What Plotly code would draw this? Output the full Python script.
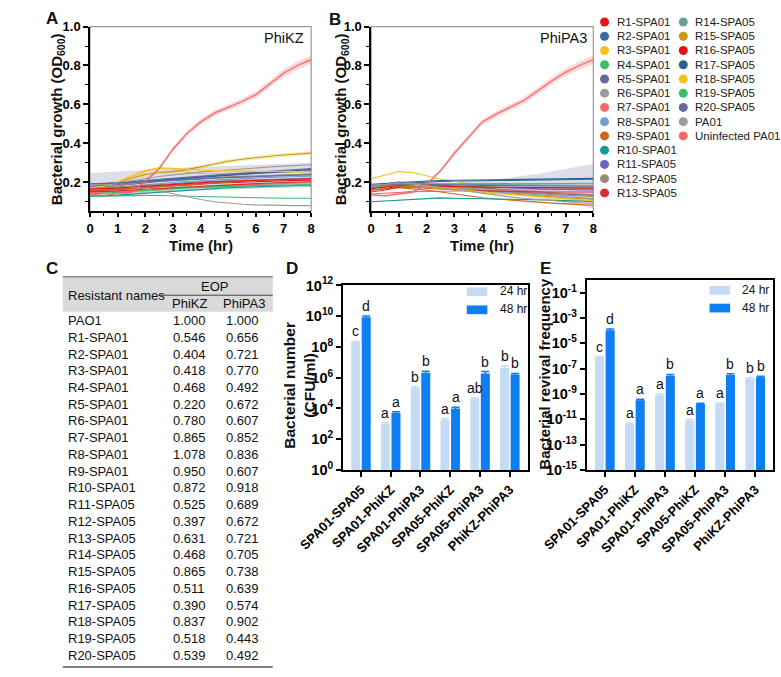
import math
import plotly.graph_objects as go

W, H = 781, 677
FONT = "Liberation Sans, Arial, Helvetica, sans-serif"

# ---------------- data: growth curves (panels A, B) ----------------
T = [0, 0.5, 1, 1.5, 2, 2.5, 3, 3.5, 4, 4.5, 5, 5.5, 6, 6.5, 7, 7.5, 8]

STRAINS = ["R1-SPA01", "R2-SPA01", "R3-SPA01", "R4-SPA01", "R5-SPA01", "R6-SPA01",
           "R7-SPA01", "R8-SPA01", "R9-SPA01", "R10-SPA01", "R11-SPA05", "R12-SPA05",
           "R13-SPA05", "R14-SPA05", "R15-SPA05", "R16-SPA05", "R17-SPA05", "R18-SPA05",
           "R19-SPA05", "R20-SPA05", "PA01", "Uninfected PA01"]
COLORS = ["#E8121B", "#3A6A9E", "#F5C21B", "#3DBB6A", "#646A9C", "#9B9B9B",
          "#F46A6A", "#6FA0D6", "#C8681A", "#0E9A95", "#6A64C2", "#9A8A7A",
          "#D43030", "#6F9C9A", "#C89A12", "#E8121B", "#2E5E96", "#F5C21B",
          "#3DBB6A", "#646A9C", "#9B9B9B", "#F46A6A"]

# PhiKZ (panel A)
KZ_R1 = [0.160, 0.158, 0.163, 0.168, 0.173, 0.178, 0.183, 0.187, 0.191, 0.195, 0.198, 0.201, 0.204, 0.206, 0.208, 0.210, 0.211]
KZ_R2 = [0.172, 0.176, 0.182, 0.190, 0.198, 0.204, 0.209, 0.214, 0.218, 0.222, 0.226, 0.229, 0.232, 0.235, 0.237, 0.239, 0.241]
KZ_R3 = [0.180, 0.182, 0.198, 0.225, 0.255, 0.272, 0.268, 0.252, 0.246, 0.245, 0.246, 0.248, 0.250, 0.251, 0.252, 0.253, 0.254]
KZ_R4 = [0.130, 0.128, 0.130, 0.132, 0.133, 0.132, 0.130, 0.128, 0.126, 0.124, 0.122, 0.121, 0.120, 0.119, 0.118, 0.118, 0.118]
KZ_R5 = [0.192, 0.194, 0.198, 0.204, 0.210, 0.216, 0.222, 0.227, 0.232, 0.237, 0.242, 0.247, 0.252, 0.257, 0.262, 0.266, 0.270]
KZ_R6 = [0.182, 0.186, 0.196, 0.208, 0.220, 0.230, 0.238, 0.246, 0.252, 0.258, 0.264, 0.269, 0.274, 0.279, 0.283, 0.287, 0.290]
KZ_R7 = [0.148, 0.150, 0.154, 0.158, 0.163, 0.167, 0.171, 0.175, 0.178, 0.181, 0.184, 0.187, 0.190, 0.192, 0.194, 0.196, 0.198]
KZ_R8 = [0.168, 0.170, 0.175, 0.181, 0.188, 0.194, 0.199, 0.204, 0.208, 0.212, 0.216, 0.219, 0.222, 0.225, 0.227, 0.229, 0.231]
KZ_R9 = [0.158, 0.160, 0.164, 0.169, 0.174, 0.179, 0.184, 0.189, 0.194, 0.198, 0.202, 0.206, 0.209, 0.212, 0.215, 0.217, 0.219]
KZ_R10 = [0.128, 0.130, 0.134, 0.139, 0.144, 0.149, 0.154, 0.159, 0.164, 0.168, 0.172, 0.175, 0.178, 0.180, 0.182, 0.184, 0.185]
KZ_R11 = [0.178, 0.182, 0.188, 0.196, 0.205, 0.212, 0.218, 0.224, 0.229, 0.234, 0.239, 0.243, 0.247, 0.251, 0.254, 0.257, 0.260]
KZ_R12 = [0.170, 0.174, 0.182, 0.192, 0.202, 0.208, 0.213, 0.217, 0.221, 0.225, 0.228, 0.231, 0.234, 0.236, 0.238, 0.240, 0.242]
KZ_R13 = [0.152, 0.152, 0.156, 0.160, 0.164, 0.167, 0.171, 0.175, 0.179, 0.183, 0.187, 0.190, 0.193, 0.196, 0.199, 0.201, 0.203]
KZ_R14 = [0.168, 0.170, 0.174, 0.179, 0.184, 0.189, 0.194, 0.198, 0.202, 0.205, 0.208, 0.211, 0.213, 0.215, 0.217, 0.219, 0.220]
KZ_R15 = [0.190, 0.190, 0.200, 0.220, 0.240, 0.250, 0.255, 0.265, 0.280, 0.295, 0.308, 0.318, 0.327, 0.334, 0.340, 0.345, 0.350]
KZ_R16 = [0.165, 0.166, 0.170, 0.175, 0.180, 0.185, 0.190, 0.194, 0.198, 0.202, 0.205, 0.208, 0.211, 0.213, 0.215, 0.217, 0.219]
KZ_R17 = [0.190, 0.192, 0.196, 0.200, 0.205, 0.210, 0.215, 0.221, 0.227, 0.232, 0.237, 0.242, 0.247, 0.252, 0.257, 0.262, 0.266]
KZ_R18 = [0.172, 0.180, 0.200, 0.235, 0.262, 0.275, 0.272, 0.266, 0.262, 0.260, 0.258, 0.257, 0.256, 0.256, 0.255, 0.255, 0.255]
KZ_R19 = [0.140, 0.143, 0.148, 0.153, 0.158, 0.163, 0.167, 0.171, 0.174, 0.177, 0.179, 0.181, 0.183, 0.184, 0.185, 0.186, 0.187]
KZ_R20 = [0.190, 0.192, 0.196, 0.200, 0.204, 0.208, 0.212, 0.215, 0.218, 0.221, 0.224, 0.227, 0.230, 0.232, 0.234, 0.236, 0.238]
KZ_PA01 = [0.190, 0.187, 0.183, 0.176, 0.167, 0.155, 0.141, 0.126, 0.112, 0.100, 0.092, 0.087, 0.084, 0.082, 0.081, 0.080, 0.080]
KZ_UNINF = [0.140, 0.130, 0.145, 0.150, 0.205, 0.270, 0.370, 0.450, 0.510, 0.555, 0.585, 0.615, 0.650, 0.705, 0.760, 0.800, 0.830]

KZ_UNINF_SD = [0.006, 0.006, 0.007, 0.008, 0.009, 0.010, 0.012, 0.013, 0.014, 0.015, 0.015, 0.016, 0.017, 0.018, 0.019, 0.020, 0.021]
KZ_R20_SD = [0.058, 0.058, 0.059, 0.059, 0.060, 0.060, 0.060, 0.061, 0.061, 0.061, 0.062, 0.062, 0.062, 0.062, 0.062, 0.062, 0.062]
KZ_R19_SD = [0.008, 0.008, 0.009, 0.009, 0.010, 0.010, 0.010, 0.011, 0.011, 0.011, 0.012, 0.012, 0.012, 0.012, 0.012, 0.012, 0.012]
KZ_R15_SD = [0.006, 0.006, 0.007, 0.007, 0.008, 0.008, 0.008, 0.009, 0.009, 0.009, 0.010, 0.010, 0.010, 0.010, 0.010, 0.010, 0.010]

# PhiPA3 (panel B)
PA3_R1 = [0.160, 0.168, 0.180, 0.182, 0.178, 0.172, 0.167, 0.162, 0.158, 0.154, 0.151, 0.148, 0.145, 0.142, 0.140, 0.138, 0.136]
PA3_R2 = [0.180, 0.186, 0.192, 0.197, 0.201, 0.204, 0.206, 0.207, 0.208, 0.209, 0.210, 0.211, 0.212, 0.213, 0.214, 0.215, 0.216]
PA3_R3 = [0.218, 0.235, 0.255, 0.250, 0.232, 0.216, 0.205, 0.192, 0.178, 0.165, 0.153, 0.142, 0.132, 0.123, 0.115, 0.108, 0.102]
PA3_R4 = [0.170, 0.176, 0.185, 0.186, 0.182, 0.180, 0.178, 0.176, 0.175, 0.174, 0.173, 0.172, 0.171, 0.171, 0.170, 0.170, 0.170]
PA3_R5 = [0.182, 0.190, 0.200, 0.196, 0.190, 0.185, 0.180, 0.175, 0.170, 0.165, 0.160, 0.155, 0.150, 0.145, 0.140, 0.136, 0.132]
PA3_R6 = [0.180, 0.190, 0.202, 0.196, 0.186, 0.180, 0.175, 0.170, 0.165, 0.160, 0.155, 0.151, 0.148, 0.145, 0.142, 0.140, 0.138]
PA3_R7 = [0.140, 0.144, 0.150, 0.152, 0.153, 0.154, 0.155, 0.156, 0.157, 0.158, 0.159, 0.160, 0.161, 0.162, 0.163, 0.164, 0.165]
PA3_R8 = [0.170, 0.175, 0.182, 0.180, 0.175, 0.170, 0.165, 0.160, 0.155, 0.150, 0.145, 0.140, 0.135, 0.130, 0.125, 0.120, 0.116]
PA3_R9 = [0.160, 0.165, 0.172, 0.166, 0.160, 0.150, 0.140, 0.130, 0.121, 0.114, 0.108, 0.103, 0.098, 0.093, 0.089, 0.085, 0.082]
PA3_R10 = [0.100, 0.104, 0.110, 0.115, 0.119, 0.120, 0.118, 0.116, 0.115, 0.114, 0.113, 0.112, 0.110, 0.108, 0.106, 0.104, 0.102]
PA3_R11 = [0.178, 0.184, 0.192, 0.190, 0.186, 0.182, 0.179, 0.177, 0.175, 0.173, 0.171, 0.169, 0.167, 0.165, 0.163, 0.161, 0.159]
PA3_R12 = [0.172, 0.180, 0.190, 0.186, 0.180, 0.175, 0.170, 0.165, 0.160, 0.155, 0.150, 0.146, 0.142, 0.138, 0.134, 0.130, 0.127]
PA3_R13 = [0.150, 0.160, 0.175, 0.176, 0.170, 0.165, 0.161, 0.158, 0.156, 0.154, 0.152, 0.151, 0.150, 0.150, 0.150, 0.150, 0.150]
PA3_R14 = [0.178, 0.184, 0.190, 0.191, 0.190, 0.189, 0.189, 0.188, 0.188, 0.188, 0.187, 0.187, 0.187, 0.186, 0.186, 0.186, 0.185]
PA3_R15 = [0.170, 0.175, 0.182, 0.178, 0.172, 0.166, 0.160, 0.155, 0.150, 0.145, 0.140, 0.135, 0.130, 0.125, 0.120, 0.116, 0.112]
PA3_R16 = [0.168, 0.174, 0.182, 0.182, 0.180, 0.179, 0.178, 0.177, 0.176, 0.175, 0.174, 0.173, 0.172, 0.171, 0.170, 0.170, 0.170]
PA3_R17 = [0.190, 0.195, 0.200, 0.204, 0.207, 0.209, 0.210, 0.211, 0.212, 0.213, 0.214, 0.215, 0.216, 0.217, 0.218, 0.219, 0.220]
PA3_R18 = [0.182, 0.186, 0.192, 0.186, 0.180, 0.174, 0.166, 0.157, 0.149, 0.143, 0.137, 0.131, 0.126, 0.121, 0.116, 0.111, 0.106]
PA3_R19 = [0.178, 0.183, 0.190, 0.191, 0.191, 0.191, 0.192, 0.192, 0.192, 0.193, 0.193, 0.193, 0.194, 0.194, 0.194, 0.195, 0.195]
PA3_R20 = [0.180, 0.186, 0.192, 0.190, 0.188, 0.187, 0.186, 0.185, 0.184, 0.183, 0.182, 0.181, 0.180, 0.180, 0.180, 0.180, 0.180]
PA3_PA01 = [0.180, 0.188, 0.198, 0.192, 0.182, 0.172, 0.162, 0.152, 0.142, 0.133, 0.125, 0.118, 0.112, 0.106, 0.100, 0.095, 0.092]
PA3_UNINF = [0.135, 0.130, 0.140, 0.150, 0.190, 0.260, 0.350, 0.430, 0.510, 0.550, 0.585, 0.620, 0.670, 0.720, 0.765, 0.800, 0.830]

PA3_UNINF_SD = [0.006, 0.006, 0.007, 0.008, 0.009, 0.010, 0.012, 0.013, 0.014, 0.015, 0.015, 0.016, 0.017, 0.018, 0.019, 0.020, 0.021]
PA3_R20_SD = [0.010, 0.010, 0.010, 0.010, 0.011, 0.012, 0.014, 0.018, 0.024, 0.032, 0.042, 0.052, 0.063, 0.075, 0.088, 0.100, 0.115]

KZ_SERIES = [KZ_R1, KZ_R2, KZ_R3, KZ_R4, KZ_R5, KZ_R6, KZ_R7, KZ_R8, KZ_R9, KZ_R10, KZ_R11,
             KZ_R12, KZ_R13, KZ_R14, KZ_R15, KZ_R16, KZ_R17, KZ_R18, KZ_R19, KZ_R20, KZ_PA01, KZ_UNINF]
PA3_SERIES = [PA3_R1, PA3_R2, PA3_R3, PA3_R4, PA3_R5, PA3_R6, PA3_R7, PA3_R8, PA3_R9, PA3_R10, PA3_R11,
              PA3_R12, PA3_R13, PA3_R14, PA3_R15, PA3_R16, PA3_R17, PA3_R18, PA3_R19, PA3_R20, PA3_PA01, PA3_UNINF]
KZ_BANDS = {"R20-SPA05": KZ_R20_SD, "R15-SPA05": KZ_R15_SD, "R19-SPA05": KZ_R19_SD, "Uninfected PA01": KZ_UNINF_SD}
PA3_BANDS = {"R20-SPA05": PA3_R20_SD, "Uninfected PA01": PA3_UNINF_SD}
BAND_FILL = {"R20-SPA05": "rgba(115,118,165,0.24)", "R15-SPA05": "rgba(230,190,60,0.30)",
             "R19-SPA05": "rgba(61,187,106,0.28)", "Uninfected PA01": "rgba(244,106,106,0.28)"}

# ---------------- data: EOP table (panel C) ----------------
EOP_NAMES = ["PAO1", "R1-SPA01", "R2-SPA01", "R3-SPA01", "R4-SPA01", "R5-SPA01", "R6-SPA01",
             "R7-SPA01", "R8-SPA01", "R9-SPA01", "R10-SPA01", "R11-SPA05", "R12-SPA05",
             "R13-SPA05", "R14-SPA05", "R15-SPA05", "R16-SPA05", "R17-SPA05", "R18-SPA05",
             "R19-SPA05", "R20-SPA05"]
EOP_PHIKZ = [1.000, 0.546, 0.404, 0.418, 0.468, 0.220, 0.780, 0.865, 1.078, 0.950, 0.872,
             0.525, 0.397, 0.631, 0.468, 0.865, 0.511, 0.390, 0.837, 0.518, 0.539]
EOP_PHIPA3 = [1.000, 0.656, 0.721, 0.770, 0.492, 0.672, 0.607, 0.852, 0.836, 0.607, 0.918,
              0.689, 0.672, 0.721, 0.705, 0.738, 0.639, 0.574, 0.902, 0.443, 0.492]

# ---------------- data: bars (panels D, E) ----------------
COMBOS = ["SPA01-SPA05", "SPA01-PhiKZ", "SPA01-PhiPA3", "SPA05-PhiKZ", "SPA05-PhiPA3", "PhiKZ-PhiPA3"]
D_24 = [2.0e8, 1.0e3, 2.1e5, 1.8e3, 4.0e4, 4.5e6]
D_48 = [8.5e9, 5.0e3, 2.1e6, 1.0e4, 1.9e6, 1.6e6]
D_24_ERR = [3e7, 2e2, 5e4, 3e2, 8e3, 1.2e6]
D_48_ERR = [2e9, 1e3, 5e5, 2e3, 6e5, 3e5]
D_24_LET = ["c", "a", "b", "a", "ab", "b"]
D_48_LET = ["d", "a", "b", "a", "b", "b"]
E_24 = [7.6e-7, 4.0e-12, 8.0e-10, 8.0e-12, 1.6e-10, 1.6e-8]
E_48 = [1.1e-4, 3.2e-10, 2.8e-8, 1.6e-10, 3.2e-8, 2.1e-8]
E_24_ERR = [1.2e-7, 1e-12, 2e-10, 1.5e-12, 3e-11, 3e-9]
E_48_ERR = [2.5e-5, 6e-11, 7e-9, 3e-11, 8e-9, 4e-9]
E_24_LET = ["c", "a", "a", "a", "a", "b"]
E_48_LET = ["d", "a", "b", "a", "b", "b"]
D_EXP = [0, 2, 4, 6, 8, 10, 12]
E_EXP = [-15, -13, -11, -9, -7, -5, -3, -1]
TIMES = ["24 hr", "48 hr"]
BAR_COLORS = ["#C5DAF5", "#0D7FF2"]

BARGAP = 0.29
BARGROUPGAP = 0.15


def px(x):
    return x / W


def py(y):
    return 1 - y / H


fig = go.Figure()
annotations = []

# growth curves
for series, bands, xa, ya in [(KZ_SERIES, KZ_BANDS, "x", "y"), (PA3_SERIES, PA3_BANDS, "x2", "y2")]:
    for name, sd in bands.items():
        mean = series[STRAINS.index(name)]
        upper = [m + s for m, s in zip(mean, sd)]
        lower = [m - s for m, s in zip(mean, sd)]
        fig.add_trace(go.Scatter(x=T + T[::-1], y=upper + lower[::-1], fill="toself",
                                 fillcolor=BAND_FILL[name], line=dict(width=0), mode="lines",
                                 hoverinfo="skip", showlegend=False, xaxis=xa, yaxis=ya))
    for name, color, vals in zip(STRAINS, COLORS, series):
        fig.add_trace(go.Scatter(x=T, y=vals, mode="lines", name=name,
                                 line=dict(color=color, width=1.3 if name == "Uninfected PA01" else 1.1),
                                 showlegend=False, xaxis=xa, yaxis=ya))

# legend of strains (two columns) on a hidden axis
n_first = 13
leg_col = [0 if i < n_first else 1 for i in range(len(STRAINS))]
leg_row = [i if i < n_first else i - n_first for i in range(len(STRAINS))]
fig.add_trace(go.Scatter(x=leg_col, y=leg_row, mode="markers", marker=dict(color=COLORS, size=9),
                         cliponaxis=False, hoverinfo="skip", showlegend=False, xaxis="x5", yaxis="y5"))
for name, c, r in zip(STRAINS, leg_col, leg_row):
    annotations.append(dict(text=name, x=c, y=r, xref="x5", yref="y5", showarrow=False,
                            xanchor="left", yanchor="middle", xshift=10,
                            font=dict(size=11.5, color="#222", family=FONT)))

# bars
half = (1 - BARGAP) / 4  # offset of each bar centre from the category centre
for vals_list, err_list, let_list, xa, ya in [
        ((D_24, D_48), (D_24_ERR, D_48_ERR), (D_24_LET, D_48_LET), "x3", "y3"),
        ((E_24, E_48), (E_24_ERR, E_48_ERR), (E_24_LET, E_48_LET), "x4", "y4")]:
    for k, (vals, errs, lets, name, col) in enumerate(zip(vals_list, err_list, let_list, TIMES, BAR_COLORS)):
        fig.add_trace(go.Bar(x=COMBOS, y=vals, name=name, marker=dict(color=col, line=dict(width=0)),
                             error_y=dict(type="data", array=errs, visible=True, color=col,
                                          thickness=1.5, width=4),
                             showlegend=False, xaxis=xa, yaxis=ya))
        for i, (v, e, lt) in enumerate(zip(vals, errs, lets)):
            annotations.append(dict(text=lt, x=i + (2 * k - 1) * half, y=math.log10(v + e),
                                    xref=xa, yref=ya, showarrow=False, xanchor="center",
                                    yanchor="bottom", yshift=0,
                                    font=dict(size=14, color="#111", family=FONT)))

tickfont_b = dict(size=13, color="black", family=FONT, weight="bold")

growth_x = dict(range=[0, 8], tick0=0, dtick=1, ticks="outside", ticklen=4, tickwidth=1.5,
                tickcolor="black", showline=True, linecolor="black", linewidth=1.5,
                showgrid=False, zeroline=False, tickfont=tickfont_b,
                minor=dict(dtick=0.5, ticks="outside", ticklen=3, tickwidth=1.2, tickcolor="black"))
growth_y = dict(range=[0.05, 1.0], tick0=0, dtick=0.2, tickformat=".1f", ticks="outside", ticklen=5,
                tickwidth=1.5, tickcolor="black", showline=True, linecolor="black", linewidth=1.5,
                showgrid=False, zeroline=False, tickfont=tickfont_b,
                minor=dict(dtick=0.1, ticks="outside", ticklen=3, tickwidth=1.2, tickcolor="black"))

bar_x = dict(type="category", range=[-0.6, 5.6], tickangle=-45, ticks="outside", ticklen=5,
             tickwidth=2, tickcolor="black", showline=True, linewidth=2, linecolor="black",
             mirror=True, showgrid=False, zeroline=False, tickfont=tickfont_b)


def bar_y(exps, rng):
    return dict(type="log", range=rng, tickmode="array", tickvals=[10.0 ** e for e in exps],
                ticktext=["10<sup>%d</sup>" % e for e in exps], ticks="outside", ticklen=5,
                tickwidth=2, tickcolor="black", showline=True, linewidth=2, linecolor="black",
                mirror=True, showgrid=False, zeroline=False,
                tickfont=dict(size=14.5, color="black", family=FONT, weight="bold"))


hidden = dict(visible=False, showgrid=False, zeroline=False, showticklabels=False)

A_X = [48, 284]
B_X = [348, 585]
AB_Y = [17, 207]
D_X = [318, 515]
D_Y = [283, 472.5]
E_X = [578, 777]
E_Y = [277.5, 472.5]

fig.update_layout(
    width=W, height=H, margin=dict(l=0, r=0, t=0, b=0),
    paper_bgcolor="white", plot_bgcolor="white", showlegend=False,
    font=dict(family=FONT, color="black"),
    bargap=BARGAP, bargroupgap=BARGROUPGAP, barmode="group",
    xaxis=dict(domain=[px(A_X[0]), px(A_X[1])], anchor="y", **growth_x),
    yaxis=dict(domain=[py(AB_Y[1]), py(AB_Y[0])], anchor="x", **growth_y),
    xaxis2=dict(domain=[px(B_X[0]), px(B_X[1])], anchor="y2", **growth_x),
    yaxis2=dict(domain=[py(AB_Y[1]), py(AB_Y[0])], anchor="x2", **growth_y),
    xaxis3=dict(domain=[px(D_X[0]), px(D_X[1])], anchor="y3", **bar_x),
    yaxis3=dict(domain=[py(D_Y[1]), py(D_Y[0])], anchor="x3", **bar_y(D_EXP, [0, 12])),
    xaxis4=dict(domain=[px(E_X[0]), px(E_X[1])], anchor="y4", **bar_x),
    yaxis4=dict(domain=[py(E_Y[1]), py(E_Y[0])], anchor="x4", **bar_y(E_EXP, [-15, 0])),
    xaxis5=dict(domain=[px(597), px(681)], anchor="y5", range=[0, 1], **hidden),
    yaxis5=dict(domain=[py(187.9), py(12.3)], anchor="x5", range=[12, 0], **hidden),
)

shapes = []
# gray frames around A and B
for xa, ya in [("x", "y"), ("x2", "y2")]:
    shapes.append(dict(type="rect", xref=xa + " domain", yref=ya + " domain",
                       x0=0, x1=1, y0=0, y1=1, line=dict(color="#9a9a9a", width=1.2), layer="below"))

# table (panel C)
TBL_L, TBL_R = 19, 243
shapes.append(dict(type="rect", xref="paper", yref="paper", x0=px(TBL_L), x1=px(TBL_R),
                   y0=py(310), y1=py(274), fillcolor="#D9D9D9", line=dict(width=0), layer="below"))
shapes.append(dict(type="line", xref="paper", yref="paper", x0=px(TBL_L), x1=px(TBL_R),
                   y0=py(274), y1=py(274), line=dict(color="#8a8a8a", width=1.5)))
shapes.append(dict(type="line", xref="paper", yref="paper", x0=px(121), x1=px(TBL_R),
                   y0=py(293), y1=py(293), line=dict(color="#444", width=1)))
shapes.append(dict(type="line", xref="paper", yref="paper", x0=px(TBL_L), x1=px(TBL_R),
                   y0=py(675), y1=py(675), line=dict(color="#555", width=1.5)))

# bar legends
for i, col in enumerate(BAR_COLORS):
    for (lx, ly) in [(450, 285 + 18.5 * i), (709, 283.5 + 18.2 * i)]:
        shapes.append(dict(type="rect", xref="paper", yref="paper", x0=px(lx), x1=px(lx + 22),
                           y0=py(ly + 9), y1=py(ly), fillcolor=col, line=dict(width=0)))


def ann(text, x, y, size=13, xanchor="center", yanchor="middle", angle=0, color="#111"):
    annotations.append(dict(text=text, x=px(x), y=py(y), xref="paper", yref="paper",
                            showarrow=False, xanchor=xanchor, yanchor=yanchor, textangle=angle,
                            font=dict(size=size, color=color, family=FONT)))


# panel letters
for letter, lx, ly in [("A", 8, 9), ("B", 309, 10), ("C", 8, 266), ("D", 264, 266), ("E", 534, 266)]:
    ann("<b>%s</b>" % letter, lx, ly, size=17)

# axis titles
ann("<b>Bacterial growth (OD<sub>600</sub>)</b>", 13, 112, size=15, angle=-90)
ann("<b>Bacterial growth (OD<sub>600</sub>)</b>", 316, 112, size=15, angle=-90)
ann("<b>Time (hr)</b>", (A_X[0] + A_X[1]) / 2, 242, size=15)
ann("<b>Time (hr)</b>", (B_X[0] + B_X[1]) / 2, 242, size=15)
ann("PhiKZ", 279, 29, size=14.5, xanchor="right")
ann("PhiPA3", 580, 29, size=14.5, xanchor="right")
ann("<b>Bacterial number<br>(CFU/ml)</b>", 272, 385, size=15.5, angle=-90)
ann("<b>Bacterial revival frequency</b>", 532, 374, size=15, angle=-90)

# bar legend text
for i, name in enumerate(TIMES):
    ann(name, 483, 289 + 18.5 * i, size=12, xanchor="left")
    ann(name, 742, 288 + 18.2 * i, size=12, xanchor="left")

# table text
ann("Resistant names", 22, 293, size=13, xanchor="left")
ann("EOP", 181, 284, size=13)
ann("PhiKZ", 154, 302, size=13)
ann("PhiPA3", 212, 302, size=13)
for i, (nm, kz, pa3) in enumerate(zip(EOP_NAMES, EOP_PHIKZ, EOP_PHIPA3)):
    yy = 319 + 17.2 * i
    ann(nm, 22, yy, size=13, xanchor="left")
    ann("%.3f" % kz, 154, yy, size=13)
    ann("%.3f" % pa3, 211, yy, size=13)

fig.update_layout(shapes=shapes, annotations=annotations)
fig.write_html("out.html", config={"displayModeBar": False},
               post_script="document.body.style.margin='0';document.body.style.overflow='hidden';")
